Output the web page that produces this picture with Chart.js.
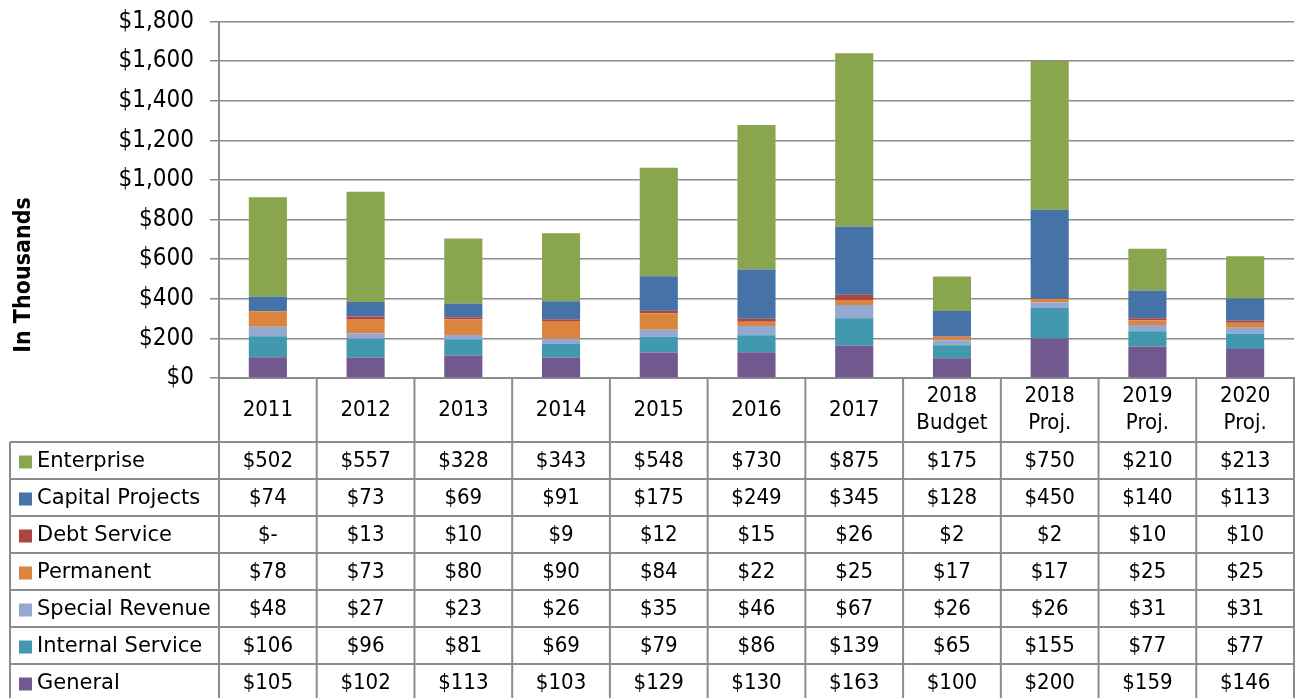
<!DOCTYPE html>
<html lang="en">
<head>
  <meta charset="UTF-8" />
  <title>Fund Expenditures by Year</title>
  <script src="https://cdn.jsdelivr.net/npm/chart.js"></script>
  <style>
    body { margin: 0; background: #fff; }
    #wrap { position: relative; width: 1296px; height: 698px; }
  </style>
</head>
<body>
  <div id="wrap"><canvas id="fundChart" width="1296" height="698"></canvas></div>

  <script>
    const years = ['2011', '2012', '2013', '2014', '2015', '2016', '2017',
      ['2018', 'Budget'], ['2018', 'Proj.'], ['2019', 'Proj.'], ['2020', 'Proj.']];

    // table order, top row first
    const seriesNames = ['Enterprise', 'Capital Projects', 'Debt Service', 'Permanent',
      'Special Revenue', 'Internal Service', 'General'];
    const enterprise      = [502, 557, 328, 343, 548, 730, 875, 175, 750, 210, 213];
    const capitalProjects = [74, 73, 69, 91, 175, 249, 345, 128, 450, 140, 113];
    const debtService     = [0, 13, 10, 9, 12, 15, 26, 2, 2, 10, 10];
    const permanent       = [78, 73, 80, 90, 84, 22, 25, 17, 17, 25, 25];
    const specialRevenue  = [48, 27, 23, 26, 35, 46, 67, 26, 26, 31, 31];
    const internalService = [106, 96, 81, 69, 79, 86, 139, 65, 155, 77, 77];
    const general         = [105, 102, 113, 103, 129, 130, 163, 100, 200, 159, 146];

    const seriesValues = [enterprise, capitalProjects, debtService, permanent,
      specialRevenue, internalService, general];
    const seriesColors = ['#89A54E', '#4572A7', '#AA4643', '#DB843D', '#93A9CF', '#4198AF', '#71588F'];

    const gridColor = '#8c8c8c';
    const fontFamily = '"DejaVu Sans", sans-serif';
    const narrowFamily = '"DejaVu Sans Condensed", "DejaVu Sans", sans-serif';

    const money = v => v === 0 ? '$-' : '$' + v.toLocaleString('en-US');

    // bottom of the stack is the last table row
    const datasets = seriesNames.map((name, i) => ({
      label: name,
      data: seriesValues[i],
      backgroundColor: seriesColors[i],
      borderWidth: 0,
      barPercentage: 0.39,
      categoryPercentage: 1.0
    })).reverse();

    // data table under the plot, columns follow the x scale
    const dataTable = {
      id: 'dataTable',
      afterDraw(chart) {
        const ctx = chart.ctx;
        const x = chart.scales.x;
        const n = years.length;
        const colW = (x.right - x.left) / n;
        const headTop = chart.chartArea.bottom;
        const rowTop = headTop + 64;
        const rowH = 37;
        const tableLeft = 10;
        const bottom = rowTop + rowH * seriesNames.length + 2;

        ctx.save();
        ctx.strokeStyle = gridColor;
        ctx.lineWidth = 2;
        ctx.beginPath();
        for (let r = 0; r <= seriesNames.length; r++) {
          const y = rowTop + r * rowH;
          ctx.moveTo(tableLeft, y);
          ctx.lineTo(x.right, y);
        }
        ctx.moveTo(tableLeft, rowTop);
        ctx.lineTo(tableLeft, bottom);
        for (let c = 0; c <= n; c++) {
          const bx = x.left + c * colW;
          ctx.moveTo(bx, headTop);
          ctx.lineTo(bx, bottom);
        }
        ctx.stroke();

        ctx.textBaseline = 'middle';
        seriesNames.forEach((name, r) => {
          const cy = rowTop + r * rowH + rowH / 2 + 1;
          ctx.fillStyle = seriesColors[r];
          ctx.fillRect(19, cy - 6, 13, 13);
          ctx.fillStyle = '#000';
          ctx.font = '21px ' + fontFamily;
          ctx.textAlign = 'left';
          ctx.fillText(name, 37, cy);
          ctx.font = '22px ' + narrowFamily;
          ctx.textAlign = 'center';
          seriesValues[r].forEach((v, c) => {
            ctx.fillText(money(v), x.getPixelForValue(c), cy);
          });
        });
        ctx.restore();
      }
    };

    // rotated axis caption on the left
    const axisCaption = {
      id: 'axisCaption',
      afterDraw(chart) {
        const ctx = chart.ctx;
        ctx.save();
        ctx.translate(24, 275);
        ctx.rotate(-Math.PI / 2);
        ctx.font = 'bold 23px ' + narrowFamily;
        ctx.fillStyle = '#000';
        ctx.textAlign = 'center';
        ctx.textBaseline = 'middle';
        ctx.fillText('In Thousands', 0, 0);
        ctx.restore();
      }
    };

    new Chart(document.getElementById('fundChart'), {
      type: 'bar',
      data: { labels: years, datasets },
      options: {
        responsive: false,
        animation: false,
        layout: { padding: { top: 21.5, right: 2, bottom: 256, left: 0 } },
        plugins: {
          legend: { display: false },
          tooltip: { enabled: false }
        },
        scales: {
          x: {
            stacked: true,
            grid: { display: false, drawTicks: false },
            border: { display: true, color: gridColor, width: 2 },
            ticks: {
              color: '#000',
              font: { family: narrowFamily, size: 22, lineHeight: 27 / 22 },
              crossAlign: 'center',
              padding: 18.5,
              maxRotation: 0,
              autoSkip: false
            },
            afterFit(scale) { scale.height = 64; }
          },
          y: {
            stacked: true,
            min: 0,
            max: 1800,
            grid: { color: gridColor, lineWidth: 1.5, tickLength: 9, drawTicks: true },
            border: { display: true, color: gridColor, width: 2 },
            ticks: {
              stepSize: 200,
              color: '#000',
              padding: 16,
              font: { family: narrowFamily, size: 24 },
              callback: v => '$' + v.toLocaleString('en-US')
            },
            afterFit(scale) {
              scale.width = 219;
              scale.paddingTop = 0;
              scale.paddingBottom = 0;
            }
          }
        }
      },
      plugins: [dataTable, axisCaption]
    });
  </script>
</body>
</html>
